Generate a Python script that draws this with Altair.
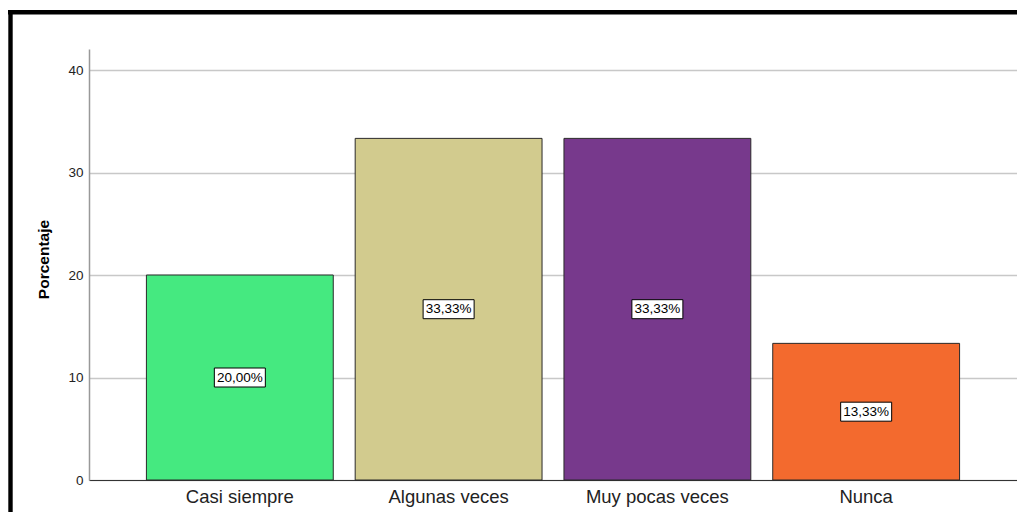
import altair as alt
import pandas as pd

categories = ["Casi siempre", "Algunas veces", "Muy pocas veces", "Nunca"]
values = [20.00, 33.33, 33.33, 13.33]
labels = ["20,00%", "33,33%", "33,33%", "13,33%"]
colors = ["#45E980", "#D2CB8E", "#77398C", "#F36A2E"]
y_ticks = [0, 10, 20, 30, 40]

df = pd.DataFrame({"cat": categories, "val": values, "lab": labels})

FONT = "Liberation Sans"

x_enc = alt.X(
    "cat:N",
    sort=categories,
    scale=alt.Scale(paddingInner=0.105, paddingOuter=0.275),
    axis=alt.Axis(
        title=None, labelAngle=0, tickSize=0, labelPadding=7,
        labelFontSize=18.5, labelFont=FONT, labelColor="#222222",
        domainColor="#333333", domainWidth=1, grid=False,
    ),
)

y_scale = alt.Scale(domain=[0, 42.05], nice=False, zero=True)

bars = alt.Chart(df).mark_bar(stroke="#2a2a2a", strokeWidth=1).encode(
    x=x_enc,
    y=alt.Y(
        "val:Q",
        scale=y_scale,
        axis=alt.Axis(
            values=y_ticks, title="Porcentaje", titleFont=FONT, titleFontSize=15.5,
            titleFontWeight="bold", titleColor="#000000", titleAngle=270,
            titleX=-46, titleY=210, titleAlign="center", titleBaseline="middle",
            labelFont=FONT, labelFontSize=13.5, labelColor="#222222",
            labelPadding=6, tickSize=0, grid=True, gridColor="#c8c8c8",
            gridWidth=1.5, domainColor="#999999", domainWidth=1.5,
        ),
    ),
    color=alt.Color("cat:N", scale=alt.Scale(domain=categories, range=colors), legend=None),
)

box_path = "M-1,-0.3725 L1,-0.3725 L1,0.3725 L-1,0.3725 Z"

boxes = alt.Chart(df).transform_calculate(mid="datum.val / 2").mark_point(
    shape=box_path, size=2601, filled=True, fill="white", stroke="black",
    strokeWidth=1, opacity=1, fillOpacity=1,
).encode(
    x=alt.X("cat:N", sort=categories),
    y=alt.Y("mid:Q", scale=y_scale),
)

texts = alt.Chart(df).transform_calculate(mid="datum.val / 2").mark_text(
    font=FONT, fontSize=13.5, color="black", align="center", baseline="middle",
).encode(
    x=alt.X("cat:N", sort=categories),
    y=alt.Y("mid:Q", scale=y_scale),
    text="lab:N",
)

frame_data = alt.Data(values=[{"a": 1}])
frame_top = alt.Chart(frame_data).mark_rule(color="black", strokeWidth=4.4).encode(
    x=alt.value(-81), x2=alt.value(1000), y=alt.value(-36.8)
)
frame_left = alt.Chart(frame_data).mark_rule(color="black", strokeWidth=4.4).encode(
    x=alt.value(-78.5), y=alt.value(-39), y2=alt.value(500)
)

chart = alt.layer(bars, boxes, texts, frame_top, frame_left).properties(
    width=928,
    height=431,
    autosize=alt.AutoSizeParams(type="none"),
    padding={"left": 81, "top": 41, "right": 0, "bottom": 32},
    background="white",
).configure_view(stroke="transparent")

chart.save("out.html", embed_options={"renderer": "svg", "actions": False})
